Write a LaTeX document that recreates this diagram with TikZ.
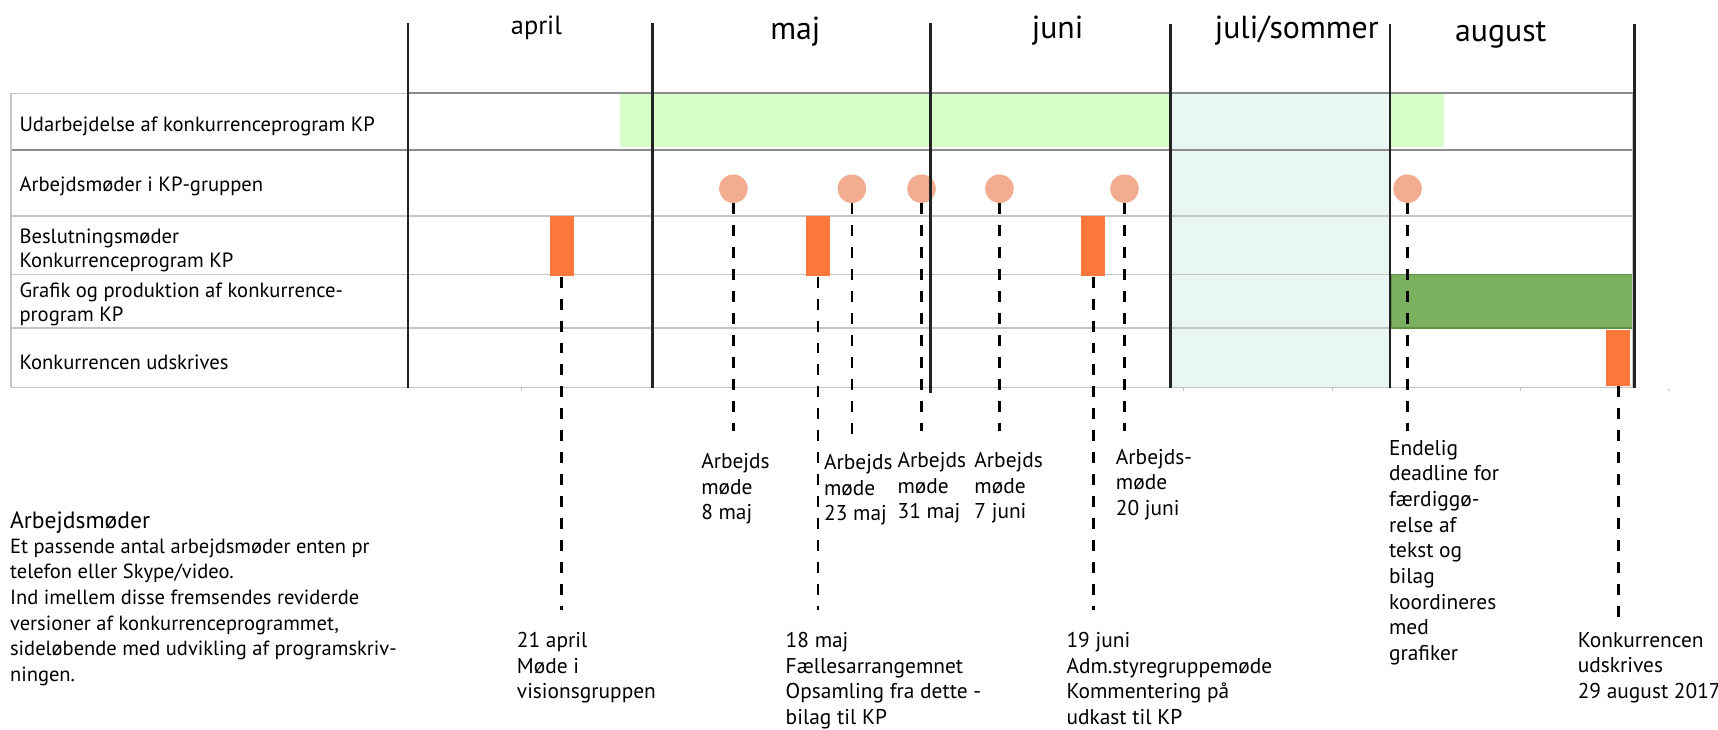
\documentclass[tikz,border=0pt]{standalone}
\usepackage{fontspec}
\setmainfont{PT Sans}
\definecolor{kpgreen}{HTML}{D7FEC9}
\definecolor{summer}{HTML}{E8F7F3}
\definecolor{prodgreen}{HTML}{7AB060}
\definecolor{prodedge}{HTML}{5E8F45}
\definecolor{decorange}{HTML}{FB773A}
\definecolor{mtgsalmon}{HTML}{F2AD91}
\definecolor{rulelight}{HTML}{C4C4C4}
\definecolor{ruledark}{HTML}{8C8C8C}
\definecolor{monthink}{HTML}{222222}
\begin{document}
\begin{tikzpicture}[x=1pt,y=-1pt,
  lightrule/.style={draw=rulelight,line width=1.2pt},
  darkrule/.style={draw=ruledark,line width=1.4pt},
  monthline/.style={draw=monthink,line width=2.4pt},
  mtg/.style={circle,fill=mtgsalmon,minimum size=26pt,inner sep=0pt},
  decbox/.style={rectangle,fill=decorange,minimum width=22pt,inner sep=0pt},
  dl/.style={draw=black,line width=2.4pt,dash pattern=on 10pt off 10pt},
  rowlab/.style={anchor=west,align=left,inner sep=0pt,font=\fontsize{18.8}{22.2}\selectfont},
  monlab/.style={anchor=base,inner sep=0pt},
  ann/.style={anchor=north west,align=left,inner sep=0pt,font=\fontsize{19.5}{23.4}\selectfont}
]
\useasboundingbox (0,0) rectangle (1566,664.5);
% background fills
\fill[kpgreen] (565,86) rectangle (1316,134);
\fill[summer] (1068,85) rectangle (1268,353);
\filldraw[fill=prodgreen,draw=prodedge,line width=1pt] (1268,250) rectangle (1490,299);
% table rules
\draw[lightrule] (10,85) -- (372,85);
\draw[darkrule] (372,85) -- (1490,85);
\draw[darkrule] (10,136.5) -- (1490,136.5);
\draw[lightrule] (10,197) -- (1490,197);
\draw[lightrule] (10,250) -- (1268,250);
\draw[lightrule] (10,299) -- (1268,299);
\draw[lightrule] (10,353) -- (1490,353);
\draw[lightrule] (10,85) -- (10,353);
\draw[lightrule] (1488,85) -- (1488,353);
\foreach \tx in {475,1079,1215,1386} \draw[rulelight,line width=1pt] (\tx,353) -- (\tx,356.5);
\fill[rulelight] (1521,355.5) circle (1pt);
% row labels
\node[rowlab] (r1) at (17.6,115) {Udarbejdelse af konkurrenceprogram KP};
\node[rowlab] (r2) at (17.6,170) {Arbejdsmøder i KP-gruppen};
\node[rowlab] (r3) at (17.6,228) {Beslutningsmøder\\Konkurrenceprogram KP};
\node[rowlab] (r4) at (17.6,277.5) {Grafik og produktion af konkurrence-\\program KP};
\node[rowlab] (r5) at (17.6,330) {Konkurrencen udskrives};
% meetings (circles)
\node[mtg] (m1) at (668.5,172) {};
\node[mtg] (m2) at (776.5,172) {};
\node[mtg] (m3) at (840,172) {};
\node[mtg] (m4) at (911,172) {};
\node[mtg] (m5) at (1025,172) {};
\node[mtg] (m6) at (1283,172) {};
% decision meetings (rectangles)
\node[decbox,minimum height=55pt] (d1) at (512,224.5) {};
\node[decbox,minimum height=55pt] (d2) at (745.5,224.5) {};
\node[decbox,minimum height=55pt] (d3) at (996.5,224.5) {};
\node[decbox,minimum height=51pt] (d4) at (1475,326.5) {};
% end points of the dashed connectors
\coordinate (e1) at (668.5,393);
\coordinate (e2) at (776.5,396);
\coordinate (e3) at (840,393);
\coordinate (e4) at (911,393);
\coordinate (e5) at (1025,393);
\coordinate (e6) at (1283,393);
\coordinate (f1) at (512,556);
\coordinate (f2) at (745.5,556);
\coordinate (f3) at (996.5,556);
\coordinate (f4) at (1475,565);
\draw[dl] (m1.south) -- (e1);
\draw[dl] (m2.south) -- (e2);
\draw[dl] (m3.south) -- (e3);
\draw[dl] (m4.south) -- (e4);
\draw[dl] (m5.south) -- (e5);
\draw[dl] (m6.south) -- (e6);
\draw[dl] (d1.south) -- (f1);
\draw[dl] (d2.south) -- (f2);
\draw[dl] (d3.south) -- (f3);
\draw[dl] (d4.south) -- (f4);
% month separators
\draw[monthline] (372,21) -- (372,354);
\draw[monthline] (595,21) -- (595,354);
\draw[monthline] (848,21) -- (848,358);
\draw[monthline] (1067,22) -- (1067,354);
\draw[monthline] (1267,22) -- (1267,354);
\draw[monthline] (1490,22) -- (1490,354);
% month labels
\node[monlab,font=\fontsize{24}{28}\selectfont] (mapr) at (489,31) {april};
\node[monlab,font=\fontsize{29}{34}\selectfont] (mmaj) at (725,36) {maj};
\node[monlab,font=\fontsize{29}{34}\selectfont] (mjun) at (964,35) {juni};
\node[monlab,font=\fontsize{29}{34}\selectfont] (mjul) at (1182,35) {juli/sommer};
\node[monlab,font=\fontsize{29}{34}\selectfont] (maug) at (1368,38) {august};
% annotations
\node[ann] (a1) at (639,413) {Arbejds\\møde\\8 maj};
\node[ann] (a2) at (751,414) {Arbejds\\møde\\23 maj};
\node[ann] (a3) at (818,412) {Arbejds\\møde\\31 maj};
\node[ann] (a4) at (888,412) {Arbejds\\møde\\7 juni};
\node[ann] (a5) at (1017,409) {Arbejds-\\møde\\20 juni};
\node[ann] (a6) at (1266,401) {Endelig\\deadline for\\færdiggø-\\relse af\\tekst og\\bilag\\koordineres\\med\\grafiker};
\node[ann] (b1) at (471,576) {21 april\\Møde i\\visionsgruppen};
\node[ann] (b2) at (716,576) {18 maj\\Fællesarrangemnet\\Opsamling fra dette -\\bilag til KP};
\node[ann] (b3) at (972,576) {19 juni\\Adm.styregruppemøde\\Kommentering på\\udkast til KP};
\node[ann] (b4) at (1438,576) {Konkurrencen\\udskrives\\29 august 2017};
% left note
\node[anchor=north west,inner sep=0pt,font=\fontsize{21.5}{25}\selectfont] (h1) at (9,466) {Arbejdsmøder};
\node[anchor=north west,align=left,inner sep=0pt,font=\fontsize{18.7}{23.3}\selectfont] (p1) at (9,491) {Et passende antal arbejdsmøder enten pr\\telefon eller Skype/video.\\Ind imellem disse fremsendes reviderde\\versioner af konkurrenceprogrammet,\\sideløbende med udvikling af programskriv-\\ningen.};
\end{tikzpicture}
\end{document}
